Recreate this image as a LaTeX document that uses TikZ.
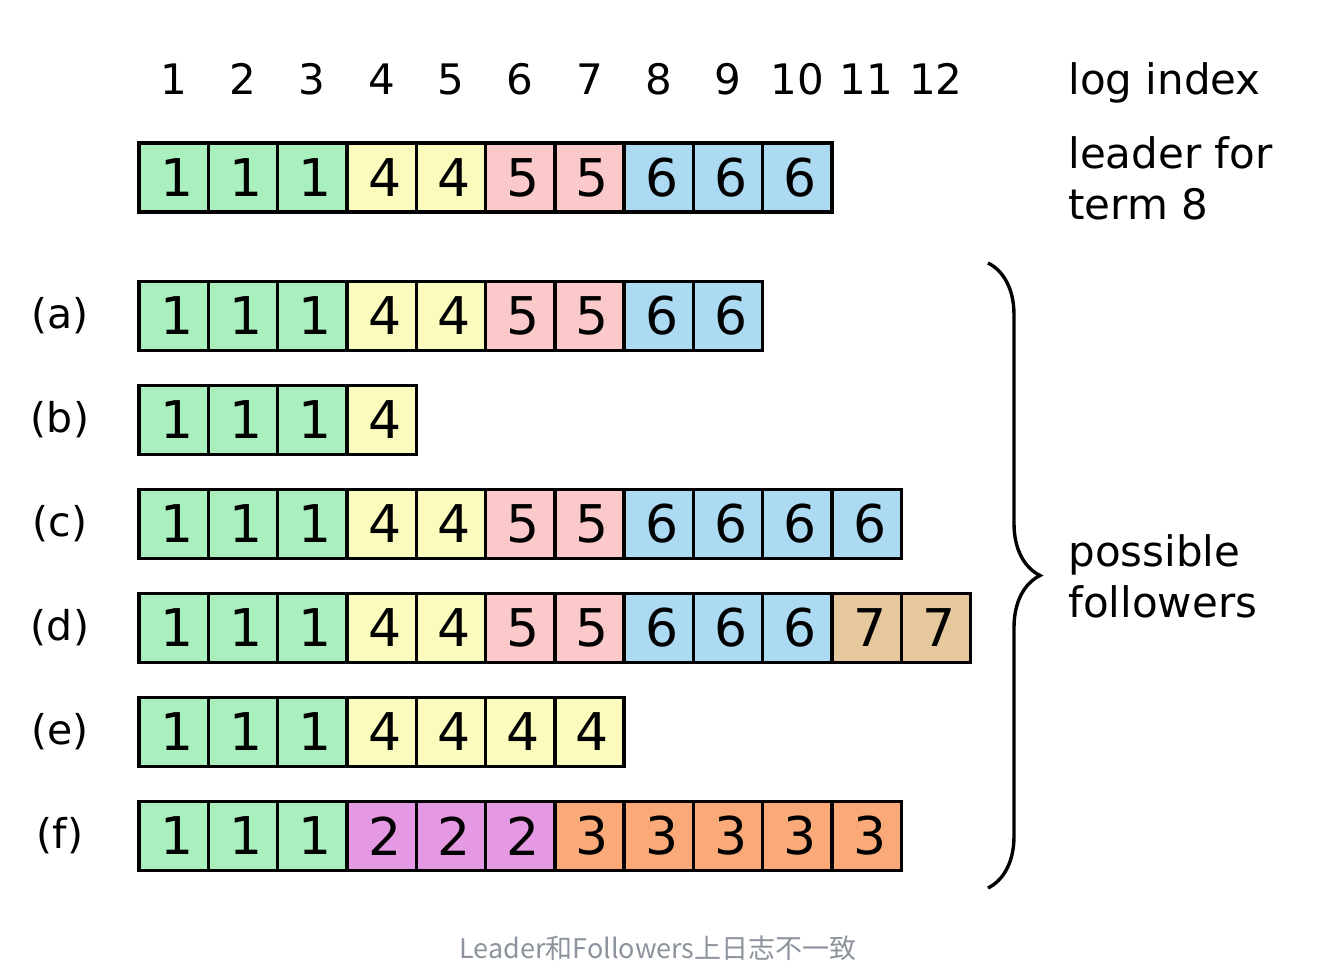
\documentclass[tikz,border=0pt]{standalone}
\usepackage{fontspec}
\setmainfont{DejaVu Sans}
\newfontfamily\cjk{Noto Sans CJK SC}
\usetikzlibrary{positioning,decorations.pathreplacing}

% term colours
\definecolor{t1}{HTML}{AAF0BF}
\definecolor{t2}{HTML}{E699E3}
\definecolor{t3}{HTML}{F9AA78}
\definecolor{t4}{HTML}{FBFBBD}
\definecolor{t5}{HTML}{FCC9CA}
\definecolor{t6}{HTML}{ABDAF2}
\definecolor{t7}{HTML}{E5C99D}
\definecolor{capgray}{HTML}{8C939D}

\tikzset{
    entry/.style={draw=black,line width=1.7pt,inner sep=0pt,minimum size=34.65pt,
        font=\fontsize{26}{30}\selectfont,execute at begin node=\hspace{3pt}},
    idx/.style={font=\fontsize{21}{24}\selectfont},
    rowlabel/.style={font=\fontsize{20.5}{24}\selectfont},
    note/.style={align=left,anchor=north west,inner sep=0pt,
        font=\fontsize{21}{25.5}\selectfont},
}

\begin{document}
\begin{tikzpicture}[x=0.5pt,y=-0.5pt]
    \useasboundingbox (0,0) rectangle (1339,965);
    % log index numbers
    \foreach \i in {1,...,12}
        \node [idx] (idx-\i) at ({139+(\i-0.5)*69.3},79) {\i};
    % logs, one row each
    \foreach \row/\ypos/\terms in {L/177.5/{1,1,1,4,4,5,5,6,6,6},
            a/316/{1,1,1,4,4,5,5,6,6},
            b/420/{1,1,1,4},
            c/524/{1,1,1,4,4,5,5,6,6,6,6},
            d/628/{1,1,1,4,4,5,5,6,6,6,7,7},
            e/732/{1,1,1,4,4,4,4},
            f/836/{1,1,1,2,2,2,3,3,3,3,3}}
        \foreach \t [count=\i] in \terms
            \node [entry,fill=t\t] (\row-\i) at ({139+(\i-0.5)*69.3},\ypos) {\t};
    \foreach \row in {a,b,c,d,e,f}
        \node [rowlabel] (lab-\row) at (60,0 |- \row-1) {(\row)};
    \node [note] (logindex) at (1068,62) {log index};
    \node [note] (leader) at (1068,136) {leader for\\term 8};
    \node [note] (followers) at (1068,534) {possible\\followers};
    % brace over the followers
    \coordinate (bracetop) at (988,263);
    \coordinate (bracebot) at (988,888);
    \draw [line width=1.7pt,decorate,decoration={brace,amplitude=26pt}]
        (bracetop) -- (bracebot);
    \node [font=\cjk\fontsize{13.5}{16}\selectfont,text=capgray] (caption)
        at (658,948) {Leader和Followers上日志不一致};
\end{tikzpicture}
\end{document}
